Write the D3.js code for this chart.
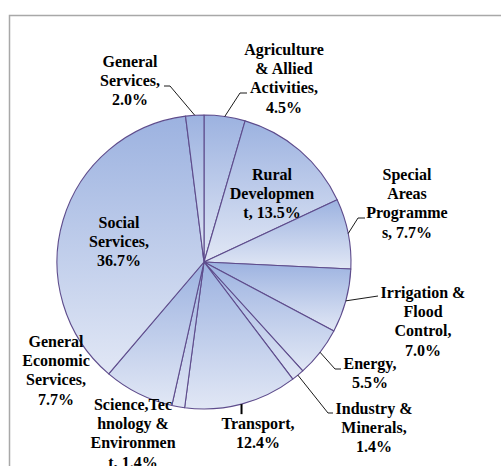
<!DOCTYPE html>
<html>
<head>
<meta charset="utf-8">
<script src="https://cdn.jsdelivr.net/npm/d3@7"></script>
<style>
  body { margin: 0; background: #fff; }
  svg { display: block; }
</style>
</head>
<body>
<svg id="chart"></svg>
<script>
// plan outlay shares, clockwise from 12 o'clock
var categories = ["Agriculture & Allied Activities", "Rural Development", "Special Areas Programmes",
  "Irrigation & Flood Control", "Energy", "Industry & Minerals", "Transport",
  "Science,Technology & Environment", "General Economic Services", "Social Services", "General Services"];
var values = [4.5, 13.5, 7.7, 7.0, 5.5, 1.4, 12.4, 1.4, 7.7, 36.7, 2.0];
// wrapped label text as in the original, {v} gets the share
var labelLines = [
  ["Agriculture", "& Allied", "Activities,", "{v}"],
  ["Rural", "Developmen", "t, {v}"],
  ["Special", "Areas", "Programme", "s, {v}"],
  ["Irrigation &", "Flood", "Control,", "{v}"],
  ["Energy,", "{v}"],
  ["Industry &", "Minerals,", "{v}"],
  ["Transport,", "{v}"],
  ["Science,Tec", "hnology &", "Environmen", "t, {v}"],
  ["General", "Economic", "Services,", "{v}"],
  ["Social", "Services,", "{v}"],
  ["General", "Services,", "{v}"]
];

var width = 501, height = 466;
var cx = 204, cy = 262, radius = 147;

// label placement: x centre, first baseline, leader elbow / end
var labelPos = [
  {x: 284, y: 55, elbow: [240, 93], end: [247, 93]},
  {x: 272, y: 180},
  {x: 407, y: 180, elbow: [358, 218], end: [365, 218]},
  {x: 423, y: 298, elbow: [378, 296], end: [378, 296]},
  {x: 370, y: 369, elbow: [335, 369], end: [341, 369]},
  {x: 374, y: 414, elbow: [328, 413], end: [333, 413]},
  {x: 258, y: 429, tick: 10},
  {x: 133, y: 410},
  {x: 56, y: 347},
  {x: 119, y: 228},
  {x: 130, y: 67, elbow: [170, 86], end: [164, 86]}
];

var svg = d3.select("#chart").attr("width", width).attr("height", height);

// chart area frame
svg.append("rect")
  .attr("x", 9.5).attr("y", 15.5)
  .attr("width", 520).attr("height", 480)
  .attr("fill", "none")
  .attr("stroke", "#a8a8a8")
  .attr("stroke-width", 1.5);

var defs = svg.append("defs");
var grad = defs.append("linearGradient")
  .attr("id", "sliceFill")
  .attr("x1", 0).attr("y1", 0).attr("x2", 0).attr("y2", 1);
grad.append("stop").attr("offset", "0%").attr("stop-color", "#9cb2e0");
grad.append("stop").attr("offset", "100%").attr("stop-color", "#e1e7f5");

var data = categories.map(function (c, i) {
  return {name: c, value: values[i], lines: labelLines[i], pos: labelPos[i]};
});

var pie = d3.pie().sort(null).value(function (d) { return d.value; });
var arc = d3.arc().innerRadius(0).outerRadius(radius);
var arcs = pie(data);

var g = svg.append("g").attr("transform", "translate(" + cx + "," + cy + ")");

g.selectAll("path.slice")
  .data(arcs)
  .enter().append("path")
  .attr("class", "slice")
  .attr("d", arc)
  .attr("fill", "url(#sliceFill)")
  .attr("stroke", "#5e4c8c")
  .attr("stroke-width", 1.1)
  .attr("stroke-linejoin", "round");

function rimPoint(d) {
  var a = (d.startAngle + d.endAngle) / 2;
  return [cx + radius * Math.sin(a), cy - radius * Math.cos(a)];
}

// leader lines
var line = d3.line();
arcs.forEach(function (d) {
  var p = d.data.pos;
  var s = rimPoint(d);
  if (p.elbow) {
    svg.append("path")
      .attr("d", line([s, p.elbow, p.end]))
      .attr("fill", "none")
      .attr("stroke", "#000")
      .attr("stroke-width", 0.9);
  } else if (p.tick) {
    svg.append("path")
      .attr("d", line([s, [s[0], s[1] + p.tick]]))
      .attr("fill", "none")
      .attr("stroke", "#000")
      .attr("stroke-width", 2);
  }
});

// labels
var fmt = function (v) { return v.toFixed(1) + "%"; };
arcs.forEach(function (d) {
  var p = d.data.pos;
  var t = svg.append("text")
    .attr("x", p.x).attr("y", p.y)
    .attr("text-anchor", "middle")
    .style("font-family", "'Times New Roman', 'Liberation Serif', serif")
    .style("font-weight", "bold")
    .style("font-size", "16px")
    .attr("fill", "#000");
  d.data.lines.forEach(function (ln, i) {
    t.append("tspan")
      .attr("x", p.x)
      .attr("dy", i === 0 ? 0 : 19.2)
      .text(ln.replace("{v}", fmt(d.data.value)));
  });
});
</script>
</body>
</html>
